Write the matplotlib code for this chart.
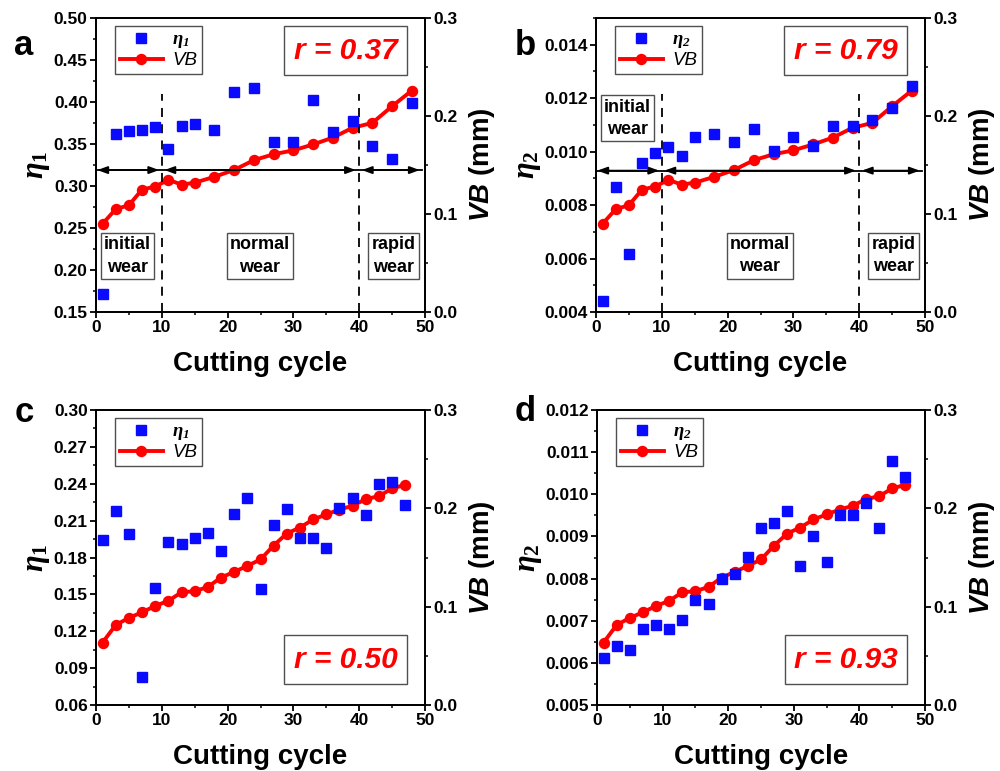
import numpy as np
import matplotlib
matplotlib.use("Agg")
import matplotlib.pyplot as plt
from matplotlib.patches import Rectangle
from matplotlib.lines import Line2D
from matplotlib.ticker import MultipleLocator, FormatStrFormatter

plt.rcParams['font.family'] = ['Liberation Sans', 'DejaVu Sans']
plt.rcParams['font.weight'] = 'bold'
plt.rcParams['mathtext.fontset'] = 'custom'
plt.rcParams['mathtext.rm'] = 'Liberation Serif'
plt.rcParams['mathtext.it'] = 'Liberation Serif:italic'
plt.rcParams['mathtext.bf'] = 'Liberation Serif:bold:italic'
plt.rcParams['mathtext.sf'] = 'Liberation Sans:bold:italic'

# panels a, b (cycles with wear stages)
cycle_ab = [1, 3, 5, 7, 9, 11, 13, 15, 18, 21, 24, 27, 30, 33, 36, 39, 42, 45, 48]
vb_ab = [0.090, 0.105, 0.109, 0.125, 0.128, 0.135, 0.130, 0.132, 0.138, 0.145,
         0.155, 0.161, 0.165, 0.171, 0.178, 0.188, 0.193, 0.210, 0.226]
eta1_ab = [0.172, 0.362, 0.366, 0.367, 0.370, 0.344, 0.372, 0.374, 0.367, 0.412,
           0.417, 0.353, 0.353, 0.403, 0.364, 0.378, 0.348, 0.332, 0.399]
eta2_ab = [0.0044, 0.00866, 0.00616, 0.00957, 0.00996, 0.01016, 0.00985, 0.01056,
           0.01065, 0.01037, 0.01086, 0.01002, 0.01055, 0.01021, 0.01096, 0.01096,
           0.0112, 0.01164, 0.01245]

# panels c, d
cycle_cd = [1, 3, 5, 7, 9, 11, 13, 15, 17, 19, 21, 23, 25, 27, 29, 31, 33, 35,
            37, 39, 41, 43, 45, 47]
vb_cd = [0.0635, 0.0814, 0.0886, 0.0943, 0.1008, 0.1059, 0.1147, 0.1157, 0.1201,
         0.1296, 0.1354, 0.1415, 0.148, 0.1622, 0.1744, 0.1805, 0.1887, 0.1938,
         0.1988, 0.2026, 0.2094, 0.2124, 0.2202, 0.224]
eta1_cd = [0.194, 0.218, 0.199, 0.0825, 0.1556, 0.1928, 0.1906, 0.1957, 0.2003,
           0.1854, 0.2153, 0.2283, 0.1545, 0.2066, 0.2191, 0.1957, 0.1957, 0.1876,
           0.2202, 0.2283, 0.2142, 0.2395, 0.2416, 0.2229]
eta2_cd = [0.00612, 0.0064, 0.0063, 0.00681, 0.0069, 0.00681, 0.00701, 0.00749,
           0.0074, 0.0080, 0.0081, 0.00852, 0.00921, 0.00932, 0.00961, 0.00829,
           0.0090, 0.0084, 0.00951, 0.00951, 0.0098, 0.00921, 0.0108, 0.0104]

r_values = ['0.37', '0.79', '0.50', '0.93']
stage_labels = ['initial\nwear', 'normal\nwear', 'rapid\nwear']

BLUE = '#0a0aff'
RED = '#ff0000'
BOXEDGE = '#505050'


def style_axis(ax):
    ax.tick_params(axis='both', which='major', direction='out', length=4, width=1.3,
                   labelsize=12.5, pad=2)
    ax.tick_params(axis='both', which='minor', direction='out', length=2.5, width=1.1)
    ax.tick_params(top=False, which='both')
    for s in ax.spines.values():
        s.set_linewidth(1.3)


def draw_panel(rect, x, eta, vb, ylim, ystep, yfmt, ylab, etalab, r, rbox_y, letter, letter_xy):
    ax = fig.add_axes(rect)
    ax2 = ax.twinx()
    ax.set_zorder(ax2.get_zorder() + 1)
    ax.patch.set_visible(False)

    ax.plot(x, eta, 's', color=BLUE, markersize=6.8, label=etalab, zorder=5)
    ax2.plot(x, vb, '-o', color=RED, lw=2.8, markersize=7.2, label='VB')

    ax.set_xlim(0, 50)
    ax.set_ylim(*ylim)
    ax.xaxis.set_major_locator(MultipleLocator(10))
    ax.xaxis.set_minor_locator(MultipleLocator(5))
    ax.yaxis.set_major_locator(MultipleLocator(ystep))
    ax.yaxis.set_minor_locator(MultipleLocator(ystep / 2))
    ax.yaxis.set_major_formatter(FormatStrFormatter(yfmt))
    ax2.set_ylim(0, 0.3)
    ax2.yaxis.set_major_locator(MultipleLocator(0.1))
    ax2.yaxis.set_minor_locator(MultipleLocator(0.05))
    ax2.yaxis.set_major_formatter(FormatStrFormatter('%.1f'))
    style_axis(ax)
    style_axis(ax2)

    ax.set_xlabel('Cutting cycle', fontsize=20, fontweight='bold', labelpad=11)
    ax.set_ylabel(ylab, fontsize=22, fontweight='normal', labelpad=1)
    ax2.set_ylabel(r'$\mathsf{VB}$ (mm)', fontsize=20, fontweight='bold', labelpad=7)

    # legend
    h = [Line2D([], [], ls='none', marker='s', color=BLUE, markersize=6.8),
         Line2D([], [], color=RED, lw=2.8, marker='o', markersize=7.2)]
    leg = ax.legend(h, [etalab, 'VB'], loc='upper left', bbox_to_anchor=(0.058, 0.972),
                    borderaxespad=0, fancybox=False, edgecolor=BOXEDGE, fontsize=13.5,
                    handlelength=2.3, handletextpad=0.5, borderpad=0.25, labelspacing=0.12,
                    framealpha=1)
    leg.get_frame().set_linewidth(1.0)
    leg.get_texts()[1].set_fontstyle('italic')
    leg.get_texts()[1].set_fontweight('normal')

    # r box
    ax.add_patch(Rectangle((0.572, rbox_y), 0.372, 0.165, transform=ax.transAxes,
                           fill=False, ec=BOXEDGE, lw=1.0, zorder=6))
    ax.text(0.758, rbox_y + 0.08, 'r = ' + r, transform=ax.transAxes, ha='center',
            va='center', color=RED, fontsize=21.5, fontweight='bold', fontstyle='italic',
            zorder=7)

    fig.text(letter_xy[0], letter_xy[1], letter, fontsize=25, fontweight='bold',
             ha='center', va='baseline')
    return ax


def add_stages(ax, arrow_y, dash_top, stage_y):
    for xv in [10, 40]:
        ax.axvline(xv, ymin=0, ymax=dash_top, color='k', ls=(0, (5, 4)), lw=1.3, zorder=3)
    ax.axhline(arrow_y, xmin=0, xmax=0.99, color='k', lw=1.3, zorder=3)
    for x0, x1 in [(0.2, 9.6), (10.4, 39.5), (40.4, 49.2)]:
        ax.annotate('', xy=(x1, arrow_y), xytext=(x0, arrow_y),
                    arrowprops=dict(arrowstyle='<|-|>,head_length=0.6,head_width=0.22',
                                    color='k', lw=1.3, shrinkA=0, shrinkB=0), zorder=4)
    for xc, yc, lab in zip([4.8, 24.9, 45.2], stage_y, stage_labels):
        ax.text(xc, yc, lab, ha='center', va='center', fontsize=13, fontweight='bold',
                linespacing=1.4, zorder=6,
                bbox=dict(boxstyle='square,pad=0.18', fc='white', ec=BOXEDGE, lw=1.0))


fig = plt.figure(figsize=(10, 7.71), dpi=100)

ax_a = draw_panel([0.096, 0.5953, 0.329, 0.3813], cycle_ab, eta1_ab, vb_ab, (0.15, 0.50), 0.05,
                  '%.2f', r'$\eta_1$', r'$\mathbf{\eta_1}$', r_values[0], 0.807, 'a', (0.024, 0.929))
add_stages(ax_a, 0.319, 0.74, [0.2166, 0.2166, 0.2166])

ax_b = draw_panel([0.596, 0.5953, 0.329, 0.3813], cycle_ab, eta2_ab, vb_ab, (0.004, 0.015), 0.002,
                  '%.3f', r'$\eta_2$', r'$\mathbf{\eta_2}$', r_values[1], 0.807, 'b', (0.525, 0.929))
add_stages(ax_b, 0.00929, 0.74, [0.01125, 0.0061, 0.0061])

ax_c = draw_panel([0.096, 0.0856, 0.329, 0.3826], cycle_cd, eta1_cd, vb_cd, (0.06, 0.30), 0.03,
                  '%.2f', r'$\eta_1$', r'$\mathbf{\eta_1}$', r_values[2], 0.072, 'c', (0.024, 0.453))

ax_d = draw_panel([0.597, 0.0856, 0.328, 0.3826], cycle_cd, eta2_cd, vb_cd, (0.005, 0.012), 0.001,
                  '%.3f', r'$\eta_2$', r'$\mathbf{\eta_2}$', r_values[3], 0.072, 'd', (0.525, 0.454))

fig.savefig('out.png', dpi=100)
